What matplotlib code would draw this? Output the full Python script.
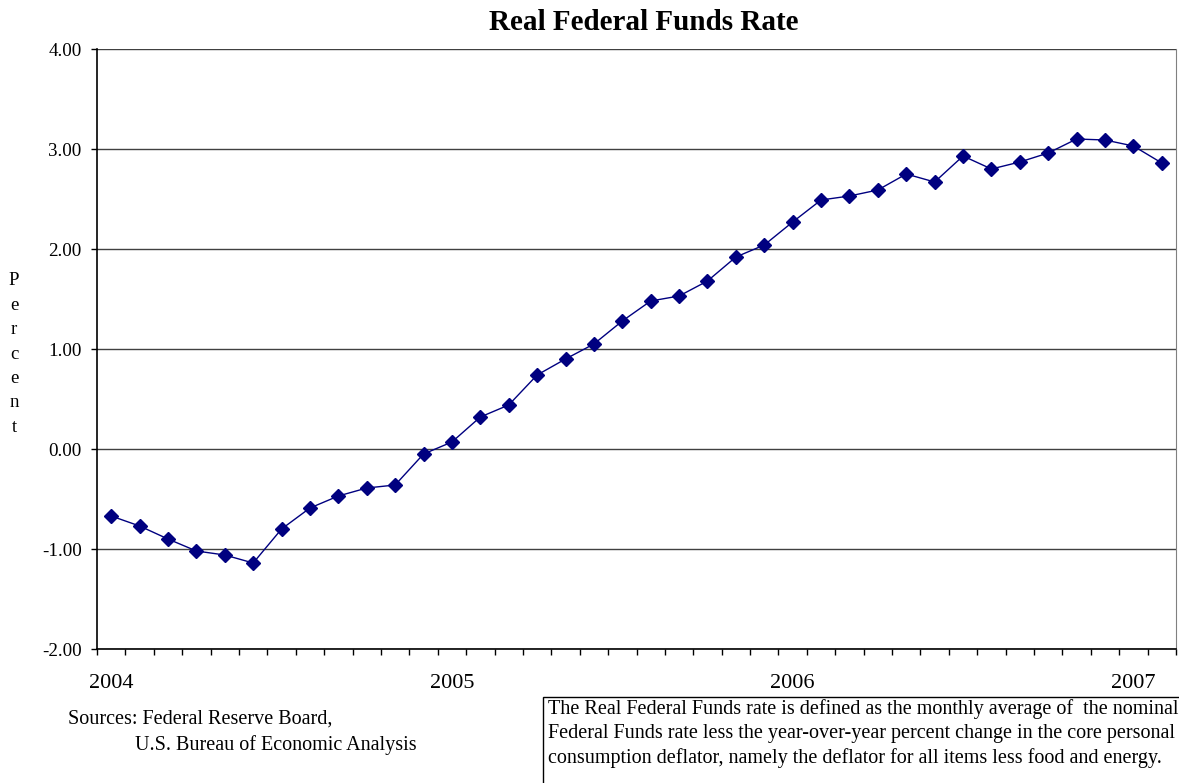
import matplotlib
matplotlib.use("Agg")
import matplotlib.pyplot as plt
from matplotlib.patches import Rectangle
import numpy as np

plt.rcParams['font.family'] = ['Liberation Serif', 'DejaVu Serif']

# Monthly real federal funds rate, Jan 2004 - Feb 2007 (percent)
months = [f"{y}-{m:02d}" for y in range(2004, 2008) for m in range(1, 13)][:38]
real_rate = [-0.67, -0.77, -0.90, -1.02, -1.06, -1.14, -0.80, -0.59, -0.47, -0.39,
             -0.36, -0.05, 0.07, 0.32, 0.44, 0.74, 0.90, 1.05, 1.28, 1.48,
             1.53, 1.68, 1.92, 2.04, 2.27, 2.49, 2.53, 2.59, 2.75, 2.67,
             2.93, 2.80, 2.87, 2.96, 3.10, 3.09, 3.03, 2.86]
year_labels = ["2004", "2005", "2006", "2007"]
y_ticks = [-2.0, -1.0, 0.0, 1.0, 2.0, 3.0, 4.0]

W, H = 1179, 783
fig = plt.figure(figsize=(W / 100, H / 100), dpi=100)
ax = fig.add_axes([97 / W, 1 - 649 / H, (1176 - 97) / W, (649 - 49) / H])

x = np.arange(len(months)) + 0.5
ax.plot(x, real_rate, color='#000080', lw=1.0, marker='D', markersize=7,
        markerfacecolor='#000080', markeredgecolor='#000080', zorder=3)

ax.set_xlim(0, len(months))
ax.set_ylim(-2, 4)
ax.set_yticks(y_ticks)
ax.set_yticklabels([f"{v:.2f}" for v in y_ticks], fontsize=13.7)
for v in y_ticks:
    ax.axhline(v, color='#404040', lw=1.0, zorder=1)

# month ticks on the boundaries, year labels under each January
ax.set_xticks(np.arange(len(months) + 1))
ax.set_xticklabels([])
ax.set_xticks([i + 0.5 for i, m in enumerate(months) if m.endswith("-01")], minor=True)
ax.set_xticklabels(year_labels, minor=True, fontsize=16)
ax.tick_params(axis='x', which='major', direction='out', length=4, width=1, color='black')
ax.tick_params(axis='x', which='minor', length=0, pad=18)
ax.tick_params(axis='y', direction='out', length=4, width=1, pad=7)

ax.spines['top'].set_visible(False)
ax.spines['right'].set_color('#808080')
for s in ('left', 'bottom'):
    ax.spines[s].set_color('black')
    ax.spines[s].set_linewidth(1.2)

fig.text(644 / W, 1 - 22 / H, "Real Federal Funds Rate", ha='center', va='center',
         fontsize=21, fontweight='bold')

fig.text(14 / W, 1 - 354 / H, "P\ne\nr\nc\ne\nn\nt", ha='center', va='center',
         fontsize=13.5, linespacing=1.57)

fig.text(68 / W, 1 - 719 / H, "Sources: Federal Reserve Board,", ha='left', va='center',
         fontsize=14.5)
fig.text(135 / W, 1 - 745 / H, "U.S. Bureau of Economic Analysis", ha='left', va='center',
         fontsize=14.5)

fig.add_artist(Rectangle((543 / W, -0.05), 1.0, 1 - 697 / H + 0.05,
                         transform=fig.transFigure, fill=False, edgecolor='black', lw=1.0))
note = ("The Real Federal Funds rate is defined as the monthly average of  the nominal\n"
        "Federal Funds rate less the year-over-year percent change in the core personal\n"
        "consumption deflator, namely the deflator for all items less food and energy.")
fig.text(548 / W, 1 - 699 / H, note, ha='left', va='top', fontsize=14.5, linespacing=1.36)

fig.savefig("out.png", dpi=100)
